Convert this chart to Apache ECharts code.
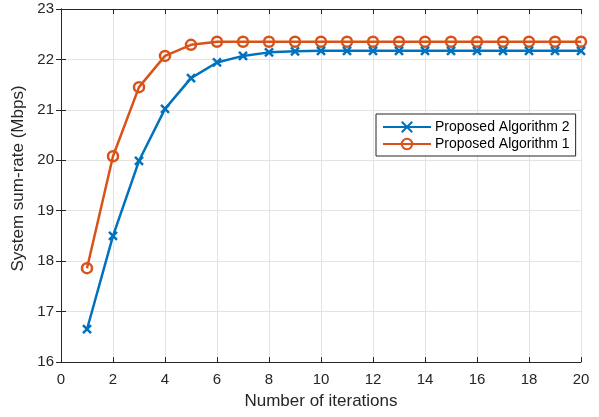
<!DOCTYPE html>
<html>
<head>
<meta charset="utf-8">
<script src="https://cdn.jsdelivr.net/npm/echarts@6/dist/echarts.min.js"></script>
<style>
  html, body { margin: 0; padding: 0; background: #fff; }
  #chart { width: 599px; height: 417px; }
</style>
</head>
<body>
<div id="chart"></div>
<script>
// Iteration index and sum-rate per algorithm (Mbps)
const iterations = [1, 2, 3, 4, 5, 6, 7, 8, 9, 10, 11, 12, 13, 14, 15, 16, 17, 18, 19, 20];
const algorithm2 = [16.65, 18.50, 19.99, 21.02, 21.63, 21.94, 22.07, 22.14, 22.16, 22.17,
                    22.17, 22.17, 22.17, 22.17, 22.17, 22.17, 22.17, 22.17, 22.17, 22.17];
const algorithm1 = [17.86, 20.08, 21.45, 22.07, 22.29, 22.35, 22.35, 22.35, 22.35, 22.35,
                    22.35, 22.35, 22.35, 22.35, 22.35, 22.35, 22.35, 22.35, 22.35, 22.35];
const seriesNames = ['Proposed Algorithm 2', 'Proposed Algorithm 1'];
const xTicks = { min: 0, max: 20, interval: 2 };
const yTicks = { min: 16, max: 23, interval: 1 };

const BLUE = '#0072BD';
const ORANGE = '#D95319';
const AXIS = '#262626';
const GRID = '#e3e3e3';
const FONT = 'Liberation Sans, Arial, sans-serif';

const pairs = (ys) => iterations.map((x, i) => [x, ys[i]]);
const crossPath = 'path://M0,0 L10,10 M10,0 L0,10 Z';

const axisCommon = {
  axisLine: { show: true, lineStyle: { color: AXIS, width: 1 } },
  axisTick: { show: true, inside: true, length: 5, lineStyle: { color: AXIS } },
};

const chart = echarts.init(document.getElementById('chart'), null, { renderer: 'canvas' });
chart.setOption({
  animation: false,
  backgroundColor: '#fff',
  grid: { left: 61, right: 18, top: 9, bottom: 55, containLabel: false },
  xAxis: [
    Object.assign({
      type: 'value', position: 'bottom',
      min: xTicks.min, max: xTicks.max, interval: xTicks.interval,
      name: 'Number of iterations', nameLocation: 'middle', nameGap: 31,
      nameTextStyle: { color: AXIS, fontSize: 17, fontFamily: FONT },
      axisLabel: { color: AXIS, fontSize: 15, fontFamily: FONT, margin: 10 },
      splitLine: { show: true, lineStyle: { color: GRID, width: 1 } },
    }, axisCommon),
    Object.assign({
      type: 'value', position: 'top',
      min: xTicks.min, max: xTicks.max, interval: xTicks.interval,
      axisLabel: { show: false }, splitLine: { show: false },
    }, axisCommon),
  ],
  yAxis: [
    Object.assign({
      type: 'value', position: 'left',
      min: yTicks.min, max: yTicks.max, interval: yTicks.interval,
      name: 'System sum-rate (Mbps)', nameLocation: 'middle', nameGap: 31,
      nameTextStyle: { color: AXIS, fontSize: 17, fontFamily: FONT, padding: [0, 0, 0, 14] },
      axisLabel: { color: AXIS, fontSize: 15, fontFamily: FONT, margin: 7 },
      splitLine: { show: true, lineStyle: { color: GRID, width: 1 } },
    }, axisCommon),
    Object.assign({
      type: 'value', position: 'right',
      min: yTicks.min, max: yTicks.max, interval: yTicks.interval,
      axisLabel: { show: false }, splitLine: { show: false },
    }, axisCommon),
  ],
  legend: {
    orient: 'vertical',
    left: 376, top: 114,
    padding: [6, 6, 5, 6],
    itemGap: 3,
    itemWidth: 48, itemHeight: 13,
    backgroundColor: '#fff',
    borderColor: AXIS, borderWidth: 1,
    textStyle: { color: '#000', fontSize: 14, fontFamily: FONT, padding: [0, 0, 0, -1] },
    data: seriesNames,
  },
  series: [
    {
      name: seriesNames[0],
      type: 'line',
      data: pairs(algorithm2),
      symbol: crossPath,
      symbolSize: 8,
      showAllSymbol: true,
      lineStyle: { color: BLUE, width: 2.5 },
      itemStyle: { color: BLUE, borderColor: BLUE, borderWidth: 2.5 },
      z: 3,
    },
    {
      name: seriesNames[1],
      type: 'line',
      data: pairs(algorithm1),
      symbol: 'circle',
      symbolSize: 10,
      showAllSymbol: true,
      lineStyle: { color: ORANGE, width: 2.5 },
      itemStyle: { color: 'rgba(255,255,255,0)', borderColor: ORANGE, borderWidth: 2.5 },
      z: 2,
    },
  ],
});
</script>
</body>
</html>
